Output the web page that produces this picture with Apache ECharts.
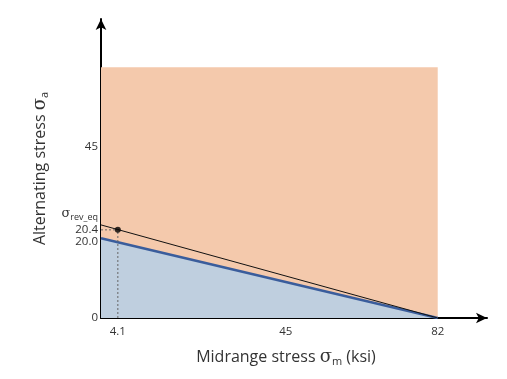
<!DOCTYPE html>
<html><head><meta charset="utf-8">
<script src="https://cdn.jsdelivr.net/npm/echarts@6/dist/echarts.min.js"></script>
<style>html,body{margin:0;padding:0;background:#fff}#c{width:507px;height:379px}</style>
</head><body><div id="c"></div>
<script>
// Values read from the (schematic) picture
var xTickValues = [4.1, 45, 82];
var xTickLabels = ['4.1', '45', '82'];
var yTickValues = [0, 20, 23.2, 27.4, 45];
var yTickLabels = ['0', '20.0', '20.4', '{s|σ}{sub|rev_eq}', '45'];
var safeRegion = [[0, 66], [82, 66], [82, 0]];      // orange region
var goodmanLine = [[0, 21], [82, 0]];               // blue line / fill
var eqLine = [[0, 24.5], [82, 0]];                  // black line
var stressPoint = [[4.1, 23.2]];
var vGuide = [[4.1, 0], [4.1, 23.2]];
var hGuide = [[0, 23.2], [4.1, 23.2]];

var font = 'Open Sans';
var chart = echarts.init(document.getElementById('c'));
chart.setOption({
  animation: false,
  grid: {left: 101, right: 20, top: 19, bottom: 61},
  xAxis: {
    type: 'value', min: 0, max: 94,
    splitLine: {show: false},
    axisLine: {show: true, lineStyle: {color: '#000', width: 2}, symbol: ['none', 'arrow'], symbolSize: [8, 11]},
    axisTick: {show: false},
    axisLabel: {customValues: xTickValues, color: '#333', fontSize: 11.5, fontFamily: font, margin: 8,
      formatter: function (v) { var i = xTickValues.indexOf(v); return i >= 0 ? xTickLabels[i] : ''; }},
    name: '{t|Midrange stress }{s|σ}{sub|m}{t| (ksi)}',
    nameLocation: 'middle', nameGap: 29,
    nameTextStyle: {padding: [0, 16, 0, 0], rich: {
      t: {fontSize: 16, fontFamily: font, color: '#333'},
      s: {fontSize: 18, fontFamily: 'DejaVu Serif', color: '#333'},
      sub: {fontSize: 11, fontFamily: font, color: '#333', verticalAlign: 'bottom', padding: [9, 0, 0, 0]}
    }}
  },
  yAxis: {
    type: 'value', min: 0, max: 78.7,
    splitLine: {show: false},
    axisLine: {show: true, lineStyle: {color: '#000', width: 2}, symbol: ['none', 'arrow'], symbolSize: [8, 11]},
    axisTick: {show: false},
    axisLabel: {customValues: yTickValues, color: '#333', fontSize: 11.5, fontFamily: font, margin: 3,
      formatter: function (v) { var i = yTickValues.indexOf(v); return i >= 0 ? yTickLabels[i] : ''; },
      rich: {
        s: {fontSize: 13, fontFamily: 'DejaVu Serif', color: '#333'},
        sub: {fontSize: 9, fontFamily: font, color: '#333', verticalAlign: 'bottom', padding: [7, 0, 0, 0]}
      }},
    name: '{t|Alternating stress }{s|σ}{sub|a}',
    nameLocation: 'middle', nameGap: 45,
    nameTextStyle: {rich: {
      t: {fontSize: 16, fontFamily: font, color: '#333'},
      s: {fontSize: 18, fontFamily: 'DejaVu Serif', color: '#333'},
      sub: {fontSize: 11, fontFamily: font, color: '#333', verticalAlign: 'bottom', padding: [9, 0, 0, 0]}
    }}
  },
  series: [
    {type: 'line', data: safeRegion, symbol: 'none', lineStyle: {width: 0}, areaStyle: {color: '#F4C9AC', opacity: 1}, z: 1, silent: true},
    {type: 'line', data: goodmanLine, symbol: 'none', lineStyle: {color: '#3A5D9C', width: 2.5}, areaStyle: {color: '#BFCFDF', opacity: 1}, z: 2},
    {type: 'line', data: eqLine, symbol: 'none', lineStyle: {color: '#111', width: 1}, z: 3},
    {type: 'line', data: vGuide, symbol: 'none', lineStyle: {color: '#666', width: 1, type: [2, 2]}, z: 3},
    {type: 'line', data: hGuide, symbol: 'none', lineStyle: {color: '#666', width: 1, type: [2, 2]}, z: 3},
    {type: 'scatter', data: stressPoint, symbolSize: 6, itemStyle: {color: '#000'}, z: 4}
  ]
});
</script></body></html>
